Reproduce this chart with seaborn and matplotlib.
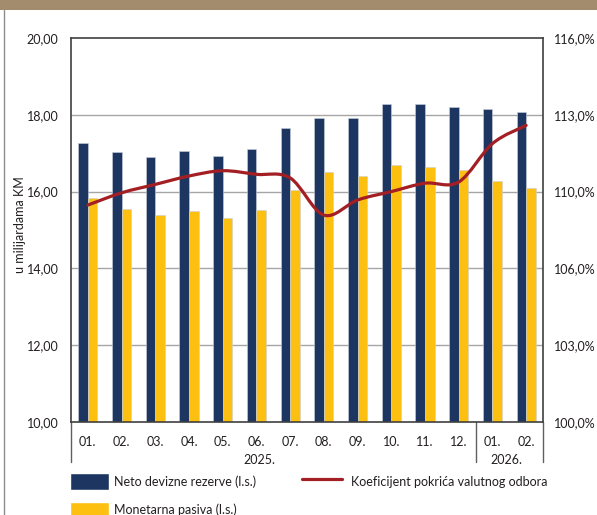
import numpy as np
import pandas as pd
import matplotlib
matplotlib.use('Agg')
import matplotlib.pyplot as plt
from matplotlib.path import Path
from matplotlib.patches import PathPatch, Patch
from matplotlib.lines import Line2D
import seaborn as sns

# Podaci (procijenjeno sa slike)
mjeseci = ['01.', '02.', '03.', '04.', '05.', '06.', '07.', '08.', '09.', '10.', '11.', '12.', '01.', '02.']
godine = ['2025.', '2026.']
devizne_rezerve = [17.26, 17.02, 16.90, 17.07, 16.94, 17.12, 17.66, 17.92, 17.92, 18.28, 18.28, 18.21, 18.15, 18.08]
monetarna_pasiva = [15.83, 15.55, 15.38, 15.49, 15.32, 15.52, 16.04, 16.50, 16.41, 16.69, 16.64, 16.55, 16.28, 16.09]
koeficijent = [109.04, 109.55, 109.90, 110.25, 110.47, 110.32, 110.17, 108.62, 109.25, 109.60, 109.95, 110.00, 111.60, 112.36]
lijeve_oznake = ['10,00', '12,00', '14,00', '16,00', '18,00', '20,00']
desne_oznake = ['100,0%', '103,0%', '106,0%', '110,0%', '113,0%', '116,0%']

NAVY = '#1c3661'
YELLOW = '#fdc010'
RED = '#a31f24'
GRID = '#a6a6a6'
FRAME = '#404040'
TEXT = '#231f20'
FS = 9

sns.set_style('white')
plt.rcParams['font.family'] = ['Lato', 'DejaVu Sans']

fig = plt.figure(figsize=(5.97, 5.15), dpi=100)
ax = fig.add_axes([71/597, 1-422/515, 472/597, 384/515])

n = len(mjeseci)
df = pd.DataFrame({
    'idx': list(range(n)) * 2,
    'vrijednost': devizne_rezerve + monetarna_pasiva,
    'serija': ['Neto devizne rezerve (l.s.)'] * n + ['Monetarna pasiva (l.s.)'] * n,
})
sns.barplot(data=df, x='idx', y='vrijednost', hue='serija', palette=[NAVY, YELLOW],
            saturation=1, width=0.57, gap=0, edgecolor='#c9d0dc', linewidth=0.4,
            ax=ax, legend=False, zorder=2)

ax.set_ylim(10, 20)
ax.set_xlim(-0.5, n - 0.5)
ax.set_yticks(np.arange(10, 21, 2))
ax.set_yticklabels(lijeve_oznake)
ax.set_xticks(range(n))
ax.set_xticklabels(mjeseci)
ax.set_xlabel('')
ax.set_ylabel('')
for yv in np.arange(12, 20, 2):
    ax.axhline(yv, color=GRID, lw=1.0, zorder=1)
for s in ax.spines.values():
    s.set_color(FRAME)
    s.set_linewidth(1.2)
ax.tick_params(axis='both', length=0, labelsize=FS, colors=TEXT)
ax.tick_params(axis='y', pad=9)
ax.tick_params(axis='x', pad=10)

# separatori godina i oznake godina
for xv in [-0.5, 11.5, n - 0.5]:
    ax.axvline(xv, ymin=-0.104, ymax=0, color='#606060', lw=1.0, clip_on=False)
tr = ax.get_xaxis_transform()
ax.text(5.1, -0.098, godine[0], transform=tr, ha='center', va='center', fontsize=FS, color=TEXT)
ax.text(12.4, -0.098, godine[1], transform=tr, ha='center', va='center', fontsize=FS, color=TEXT)

# desna os - koeficijent (zaglađena linija)
ax2 = ax.twinx()
ax2.set_ylim(100, 116)
ax2.set_yticks(np.linspace(100, 116, 6))
ax2.set_yticklabels(desne_oznake)
ax2.tick_params(axis='y', length=0, labelsize=FS, colors=TEXT, pad=8)
for s in ax2.spines.values():
    s.set_visible(False)
ax2.grid(False)

xs = np.arange(n, dtype=float)
ys = np.array(koeficijent)
verts = [(xs[0], ys[0])]
codes = [Path.MOVETO]
for i in range(n - 1):
    p0 = np.array([xs[max(i - 1, 0)], ys[max(i - 1, 0)]])
    p1 = np.array([xs[i], ys[i]])
    p2 = np.array([xs[i + 1], ys[i + 1]])
    p3 = np.array([xs[min(i + 2, n - 1)], ys[min(i + 2, n - 1)]])
    c1 = p1 + (p2 - p0) / 6
    c2 = p2 - (p3 - p1) / 6
    verts += [tuple(c1), tuple(c2), tuple(p2)]
    codes += [Path.CURVE4] * 3
ax2.add_patch(PathPatch(Path(verts, codes), fill=False, edgecolor=RED, lw=2.3,
                        capstyle='round', joinstyle='round', zorder=3))

# naslov osi
fig.text(20/597, 1-225/515, 'u milijardama KM', rotation=90, ha='center', va='center',
         fontsize=FS, color=TEXT)

# legende
h1 = [Patch(facecolor=NAVY), Patch(facecolor=YELLOW)]
fig.legend(h1, ['Neto devizne rezerve (l.s.)', 'Monetarna pasiva (l.s.)'],
           loc='upper left', bbox_to_anchor=(70/597, 1-473/515), frameon=False,
           fontsize=FS, handlelength=3.1, handleheight=1.7, handletextpad=0.45,
           labelspacing=0.95, borderpad=0, borderaxespad=0, labelcolor=TEXT)
h2 = [Line2D([0], [0], color=RED, lw=2.3)]
fig.legend(h2, ['Koeficijent pokrića valutnog odbora'], loc='upper left',
           bbox_to_anchor=(302/597, 1-473/515), frameon=False, fontsize=FS,
           handlelength=3.2, handleheight=1.7, handletextpad=0.75, borderpad=0,
           borderaxespad=0, labelcolor=TEXT)

# gornja traka i lijeva linija
fig.patches.append(plt.Rectangle((0, 1-10/515), 1, 10/515, transform=fig.transFigure,
                                 facecolor='#a38b6e', edgecolor='none'))
fig.lines.append(Line2D([4/597, 4/597], [0, 1-10/515], transform=fig.transFigure,
                        color='#8c8c8c', lw=1.0))

fig.savefig('out.png', dpi=100)
